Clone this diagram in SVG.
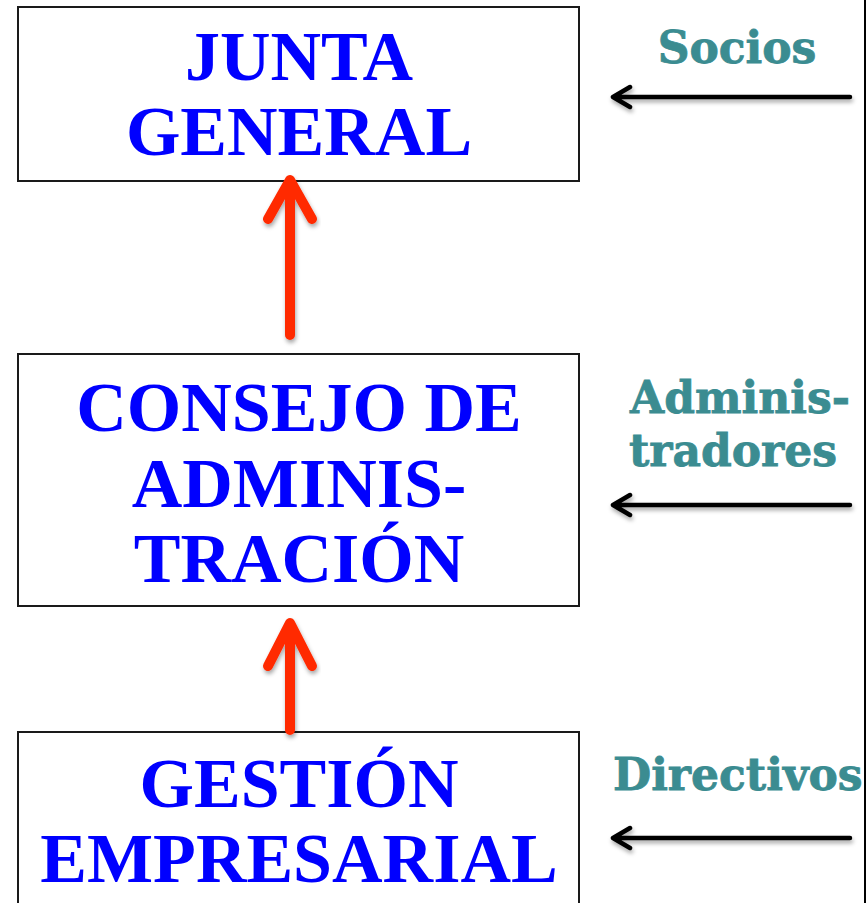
<svg xmlns="http://www.w3.org/2000/svg" width="866" height="903" viewBox="0 0 866 903">
<style>
.box{fill:#fff;stroke:#1a1a1a;stroke-width:2}
.bt{font-family:"Liberation Serif","Times New Roman",serif;font-weight:bold;font-size:70px;fill:#0000ff;text-anchor:middle}
.lt{font-family:"DejaVu Serif",Georgia,serif;font-weight:bold;font-size:44px;fill:#3b8c91;stroke:#3b8c91;stroke-width:0.8}
.red{fill:none;stroke:#ff2a00;stroke-width:10;stroke-linecap:round;stroke-linejoin:round}
.blk{fill:none;stroke:#000;stroke-width:4.5;stroke-linecap:round;stroke-linejoin:round}
</style>
<defs>
<filter id="sh" x="-20%" y="-20%" width="140%" height="140%">
<feDropShadow dx="1" dy="3" stdDeviation="2" flood-color="#000" flood-opacity="0.35"/>
</filter>
</defs>
<rect width="866" height="903" fill="#fff"/>
<line x1="865" y1="0" x2="865" y2="903" stroke="#000" stroke-width="2"/>
<g id="junta">
<rect class="box" x="18" y="7" width="561" height="174"/>
<text class="bt" x="299" y="80">JUNTA</text>
<text class="bt" x="299" y="155">GENERAL</text>
</g>
<g id="consejo">
<rect class="box" x="18" y="354" width="561" height="252"/>
<text class="bt" x="299" y="431">CONSEJO DE</text>
<text class="bt" x="299" y="507">ADMINIS-</text>
<text class="bt" x="299" y="582">TRACIÓN</text>
</g>
<g id="gestion">
<rect class="box" x="18" y="732" width="561" height="190"/>
<text class="bt" x="299" y="807">GESTIÓN</text>
<text class="bt" x="299" y="882">EMPRESARIAL</text>
</g>
<g id="socios">
<text class="lt" x="737" y="63" text-anchor="middle">Socios</text>
</g>
<g id="administradores">
<text class="lt" x="740" y="413" text-anchor="middle">Adminis-</text>
<text class="lt" x="733" y="466" text-anchor="middle">tradores</text>
</g>
<g id="directivos">
<text class="lt" x="613" y="790">Directivos</text>
</g>
<g id="connectors">
<g filter="url(#sh)">
<path class="red" d="M290 335V182M268 219L290 180L312 219"/>
<path class="red" d="M290 730V626M268 666L290 623L312 666"/>
</g>
<g filter="url(#sh)">
<path class="blk" d="M850 97H614M630 87L613 97L630 107"/>
<path class="blk" d="M850 505H614M630 495L613 505L630 515"/>
<path class="blk" d="M850 838H614M630 828L613 838L630 848"/>
</g>
</g>
</svg>
